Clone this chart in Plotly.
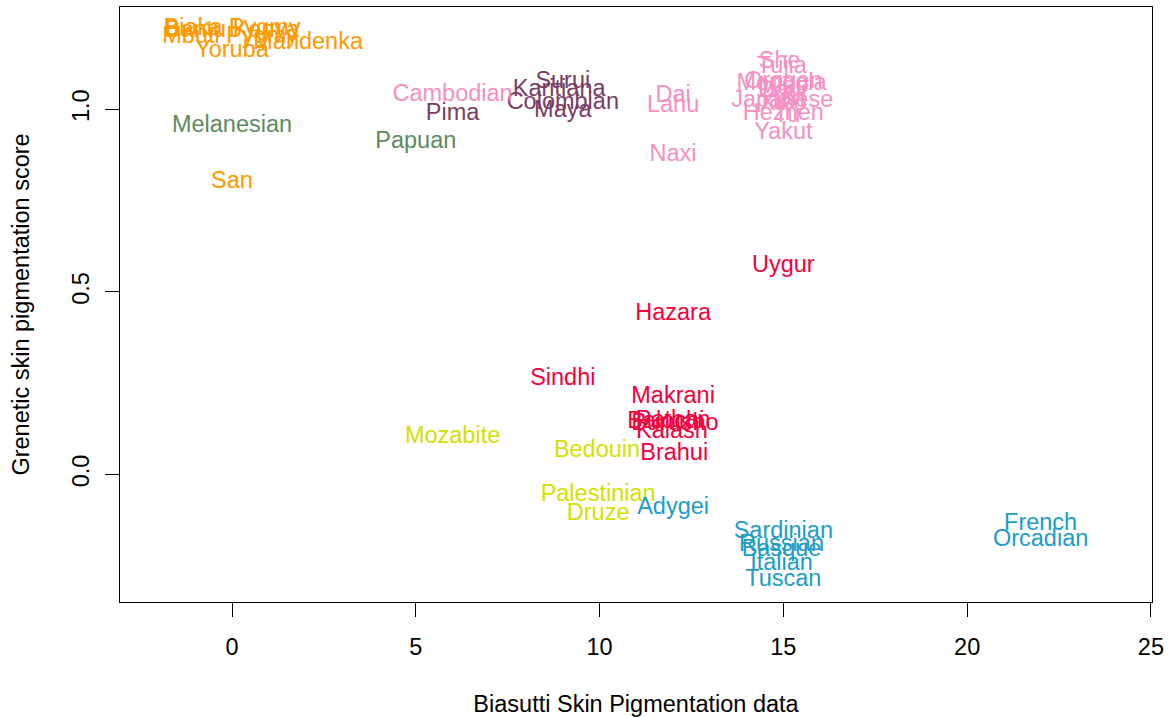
import plotly.graph_objects as go

# ---- data ----
populations = [
    "Biaka Pygmy", "Bantu Kenya", "Mbuti Pygmy", "Yoruba", "Mandenka", "San",
    "Melanesian", "Papuan",
    "Surui", "Karitiana", "Colombian", "Maya", "Pima",
    "Cambodian", "Dai", "Lahu", "Naxi", "She", "Tujia", "Orogen", "Mongola",
    "Miao", "Daur", "Han", "Japanese", "Xibo", "Tu", "Hezhen", "Yakut",
    "Uygur", "Hazara", "Sindhi", "Makrani", "Balochi", "Pathan", "Burusho",
    "Kalash", "Brahui",
    "Mozabite", "Bedouin", "Palestinian", "Druze",
    "Adygei", "Sardinian", "Russian", "Basque", "Italian", "Tuscan",
    "French", "Orcadian",
]
biasutti = [
    0.0, 0.0, -0.05, 0.0, 2.07, 0.0,
    0.0, 5.0,
    9.0, 8.9, 9.0, 9.0, 6.0,
    6.0, 12.0, 12.0, 12.0, 14.9, 14.96, 15.0, 14.95,
    15.0, 15.0, 15.0, 14.97, 15.0, 15.1, 15.0, 15.0,
    15.0, 12.0, 9.0, 12.0, 11.8, 12.0, 12.05,
    11.97, 12.03,
    6.0, 9.93, 9.96, 9.96,
    12.0, 15.0, 14.95, 14.95, 14.95, 15.0,
    22.0, 22.0,
]
genetic_score = [
    1.220, 1.215, 1.198, 1.159, 1.181, 0.801,
    0.954, 0.910,
    1.075, 1.052, 1.017, 0.995, 0.987,
    1.039, 1.036, 1.009, 0.874, 1.128, 1.116, 1.075, 1.070,
    1.061, 1.050, 1.027, 1.022, 1.014, 0.981, 0.987, 0.934,
    0.570, 0.439, 0.261, 0.213, 0.144, 0.147, 0.137,
    0.117, 0.057,
    0.102, 0.064, -0.057, -0.109,
    -0.091, -0.158, -0.194, -0.208, -0.245, -0.290,
    -0.136, -0.180,
]
region = (
    ["Africa"] * 6 + ["Oceania"] * 2 + ["America"] * 5 + ["EastAsia"] * 16
    + ["CentralSouthAsia"] * 9 + ["MiddleEast"] * 4 + ["Europe"] * 8
)
region_colors = {
    "Africa": "#FF9900",
    "Oceania": "#5E8A5E",
    "America": "#7A3D63",
    "EastAsia": "#F590C2",
    "CentralSouthAsia": "#F5003D",
    "MiddleEast": "#D4E000",
    "Europe": "#1C9DC8",
}
x_ticks = [0, 5, 10, 15, 20, 25]
y_ticks = [0.0, 0.5, 1.0]
y_tick_text = ["0.0", "0.5", "1.0"]

FONT = "Liberation Sans, Arial, Helvetica, sans-serif"
FS = 23.5

fig = go.Figure()
for reg, col in region_colors.items():
    idx = [i for i, r in enumerate(region) if r == reg]
    fig.add_trace(go.Scatter(
        x=[biasutti[i] for i in idx],
        y=[genetic_score[i] for i in idx],
        text=[populations[i] for i in idx],
        mode="text",
        textposition="middle center",
        textfont=dict(family=FONT, size=FS, color=col),
        name=reg,
        showlegend=False,
        hoverinfo="text",
    ))

axis_common = dict(
    showgrid=False, zeroline=False, automargin=False,
    showline=True, mirror=True, linecolor="black", linewidth=1,
    ticks="outside", ticklen=14, tickwidth=1, tickcolor="black",
    tickfont=dict(family=FONT, size=FS, color="black"),
)

fig.update_layout(
    width=1169, height=717,
    margin=dict(l=120, r=17, t=7, b=115),
    paper_bgcolor="white", plot_bgcolor="white",
    xaxis=dict(
        range=[-3.048, 25.03], tickvals=x_ticks,
        ticklabelstandoff=10,
        title=dict(text="Biasutti Skin Pigmentation data",
                   font=dict(family=FONT, size=FS, color="black"), standoff=37),
        **axis_common,
    ),
    yaxis=dict(
        range=[-0.349, 1.280], tickvals=y_ticks, ticktext=y_tick_text,
        tickangle=-90, ticklabelstandoff=7,
        title=dict(text="Grenetic skin pigmentation score",
                   font=dict(family=FONT, size=FS, color="black"), standoff=31),
        **axis_common,
    ),
)

fig.write_html("out.html", config={"displayModeBar": False},
               post_script="document.body.style.margin='0';")
